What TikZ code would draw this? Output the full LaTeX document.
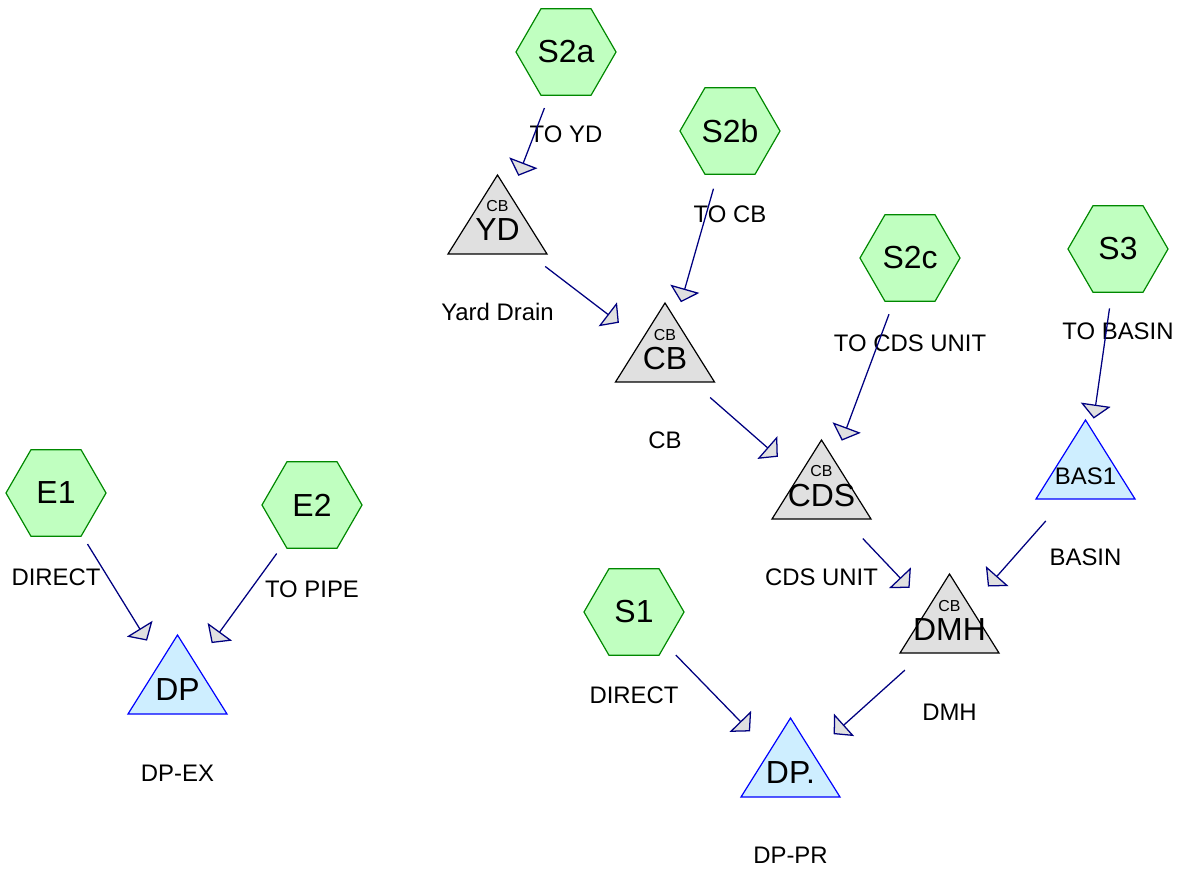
\documentclass[tikz,border=0pt]{standalone}
\usepackage{fontspec}
\setmainfont{Liberation Sans}
\usetikzlibrary{shapes.geometric,arrows.meta}

\definecolor{hexfill}{RGB}{192,255,192}
\definecolor{hexline}{RGB}{0,136,0}
\definecolor{pitfill}{RGB}{224,224,224}
\definecolor{dpfill}{RGB}{206,238,255}
\definecolor{dpline}{RGB}{0,0,255}
\definecolor{flowline}{RGB}{0,0,128}

\tikzset{
  hexbox/.style={regular polygon, regular polygon sides=6, minimum size=2.5cm,
    inner sep=0pt, draw=hexline, fill=hexfill, line width=0.85pt,
    font=\fontsize{22.7}{26}\selectfont},
  pitname/.style={inner sep=0pt, text depth=0pt, font=\fontsize{22.7}{26}\selectfont},
  pittag/.style={inner sep=0pt, text depth=0pt, font=\fontsize{11.3}{13}\selectfont},
  lbl/.style={inner sep=0pt, text depth=0pt, font=\fontsize{17}{20}\selectfont},
  cbtri/.style={draw=black, fill=pitfill, line width=0.85pt},
  dptri/.style={draw=dpline, fill=dpfill, line width=0.85pt},
  flow/.style={draw=flowline, line width=0.9pt, shorten <=1.5cm, shorten >=1.45cm,
    -{Triangle[width=0.75cm, length=0.35cm, fill=pitfill]}},
}

\begin{document}
\begin{tikzpicture}[x=0.025cm, y=-0.025cm]
    \useasboundingbox (0,0) rectangle (1183,872);

    % subareas
    \node[hexbox] (S2a) at (566,52) {S2a};
    \node[hexbox] (S2b) at (730,131) {S2b};
    \node[hexbox] (S2c) at (910,258) {S2c};
    \node[hexbox] (S3) at (1118,249) {S3};
    \node[hexbox] (E1) at (56,493) {E1};
    \node[hexbox] (E2) at (312,505) {E2};
    \node[hexbox] (S1) at (634,612) {S1};

    \node[lbl] (lS2a) at (566,134) {TO YD};
    \node[lbl] (lS2b) at (730,214) {TO CB};
    \node[lbl] (lS2c) at (910,343) {TO CDS UNIT};
    \node[lbl] (lS3) at (1118,331) {TO BASIN};
    \node[lbl] (lE1) at (56,577) {DIRECT};
    \node[lbl] (lE2) at (312,589) {TO PIPE};
    \node[lbl] (lS1) at (634,695) {DIRECT};

    % structures
    \draw[cbtri] (497.5,175) -- (547,254) -- (448,254) -- cycle;
    \draw[cbtri] (665,303) -- (714.5,382) -- (615.5,382) -- cycle;
    \draw[cbtri] (821.5,440) -- (871,519) -- (772,519) -- cycle;
    \draw[cbtri] (949.5,574) -- (999,653) -- (900,653) -- cycle;
    \draw[dptri] (1085.5,420) -- (1135,499) -- (1036,499) -- cycle;
    \draw[dptri] (177.5,635) -- (227,714) -- (128,714) -- cycle;
    \draw[dptri] (790.5,718) -- (840,797) -- (741,797) -- cycle;

    \node[pittag] (tYD) at (497.5,206) {CB};
    \node[pittag] (tCB) at (665,335) {CB};
    \node[pittag] (tCDS) at (821.5,471) {CB};
    \node[pittag] (tDMH) at (949.5,606) {CB};

    \node[pitname] (YD) at (497.5,230) {YD};
    \node[pitname] (CB) at (665,358) {CB};
    \node[pitname] (CDS) at (821.5,495) {CDS};
    \node[pitname] (DMH) at (949.5,630) {DMH};
    \node[lbl] (BAS1) at (1085.5,476) {BAS1};
    \node[pitname] (DP) at (177.5,690) {DP};
    \node[pitname] (DPp) at (790.5,773) {DP.};

    \node[lbl] (lYD) at (497.5,312) {Yard Drain};
    \node[lbl] (lCB) at (665,440) {CB};
    \node[lbl] (lCDS) at (821.5,577) {CDS UNIT};
    \node[lbl] (lDMH) at (949.5,712) {DMH};
    \node[lbl] (lBAS1) at (1085.5,557) {BASIN};
    \node[lbl] (lDP) at (177.5,773) {DP-EX};
    \node[lbl] (lDPp) at (790.5,855) {DP-PR};

    % links
    \draw[flow] (S2a.center) -- (YD.center);
    \draw[flow] (S2b.center) -- (CB.center);
    \draw[flow] (YD.center) -- (CB.center);
    \draw[flow] (CB.center) -- (CDS.center);
    \draw[flow] (S2c.center) -- (CDS.center);
    \draw[flow] (CDS.center) -- (DMH.center);
    \draw[flow] (S3.center) -- (BAS1.center);
    \draw[flow] (BAS1.center) -- (DMH.center);
    \draw[flow] (DMH.center) -- (DPp.center);
    \draw[flow] (S1.center) -- (DPp.center);
    \draw[flow] (E1.center) -- (DP.center);
    \draw[flow] (E2.center) -- (DP.center);
\end{tikzpicture}
\end{document}
